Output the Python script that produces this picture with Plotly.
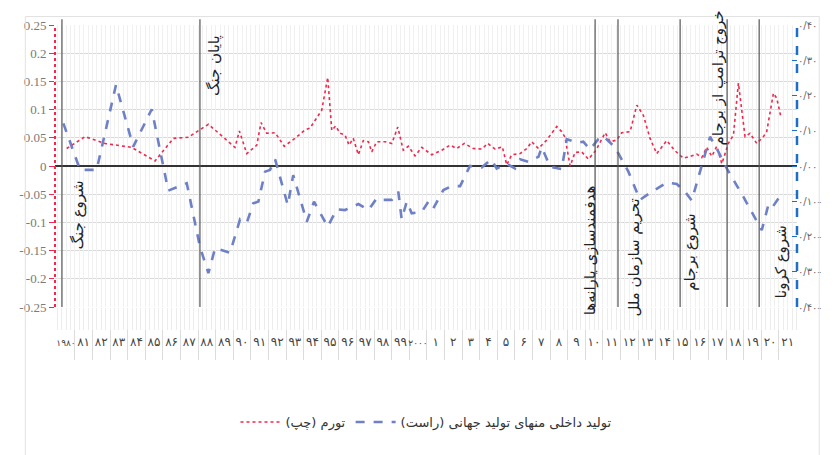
import plotly.graph_objects as go

# ---------------- data ----------------
infl_year = [1980.04, 1981.08, 1982.22, 1983.73, 1985.06, 1986.10, 1986.95, 1988.09, 1989.60, 1989.85,
             1990.27, 1990.84, 1991.08, 1991.40, 1991.88, 1992.40, 1993.01, 1993.58, 1993.86, 1994.53,
             1994.87, 1995.10, 1995.32, 1995.57, 1995.85, 1996.08, 1996.32, 1996.61, 1996.89, 1997.18,
             1997.37, 1997.65, 1998.13, 1998.51, 1998.85, 1999.16, 1999.45, 1999.83, 2000.21, 2000.78,
             2001.35, 2001.82, 2002.20, 2002.63, 2003.14, 2003.62, 2003.96, 2004.38, 2004.79, 2005.04,
             2005.32, 2005.80, 2006.18, 2006.46, 2006.84, 2007.31, 2007.88, 2008.16, 2008.35, 2008.64,
             2008.92, 2009.30, 2009.68, 2010.11, 2010.63, 2010.91, 2011.29, 2011.57, 2012.05, 2012.43,
             2012.80, 2013.18, 2013.56, 2014.13, 2014.60, 2015.07, 2015.45, 2015.84, 2016.12, 2016.40,
             2016.69, 2016.97, 2017.26, 2017.63, 2017.92, 2018.20, 2018.58, 2018.86, 2019.24, 2019.62,
             2019.81, 2020.19, 2020.38, 2020.63]
infl_val = [0.031, 0.052, 0.040, 0.033, 0.009, 0.049, 0.051, 0.074, 0.033, 0.062,
            0.022, 0.037, 0.077, 0.058, 0.059, 0.035, 0.049, 0.064, 0.067, 0.099,
            0.157, 0.063, 0.071, 0.058, 0.055, 0.037, 0.049, 0.020, 0.045, 0.043,
            0.025, 0.043, 0.043, 0.040, 0.069, 0.028, 0.035, 0.018, 0.033, 0.020,
            0.028, 0.037, 0.031, 0.040, 0.031, 0.030, 0.040, 0.030, 0.034, 0.002,
            0.020, 0.022, 0.031, 0.043, 0.031, 0.046, 0.070, 0.061, 0.051, 0.000,
            0.024, 0.025, 0.012, 0.028, 0.059, 0.043, 0.046, 0.059, 0.061, 0.108,
            0.090, 0.049, 0.022, 0.045, 0.027, 0.014, 0.017, 0.021, 0.015, 0.033,
            0.017, 0.035, 0.004, 0.040, 0.055, 0.147, 0.052, 0.058, 0.040, 0.052,
            0.061, 0.129, 0.120, 0.085]

gap_year = [1979.85, 1980.80, 1981.74, 1982.84, 1983.82, 1984.87, 1985.81, 1986.86, 1987.61, 1988.09,
            1988.47, 1989.32, 1989.89, 1990.27, 1990.64, 1990.93, 1991.31, 1991.59, 1991.88, 1992.60,
            1992.91, 1993.68, 1994.09, 1994.87, 1995.38, 1995.85, 1996.61, 1997.18, 1997.65, 1997.94,
            1998.51, 1998.88, 1999.07, 1999.36, 1999.64, 2000.21, 2000.59, 2000.87, 2001.44, 2001.91,
            2002.39, 2002.95, 2003.62, 2004.15, 2004.47, 2005.04, 2005.51, 2005.80, 2006.27, 2006.84,
            2007.03, 2007.50, 2008.16, 2008.45, 2009.11, 2009.39, 2009.77, 2010.24, 2010.53, 2011.19,
            2011.95, 2012.61, 2013.28, 2014.13, 2014.70, 2015.17, 2015.55, 2016.59, 2017.06, 2017.54,
            2018.48, 2019.53, 2019.90, 2020.09, 2020.57]
gap_val = [0.121, -0.011, -0.011, 0.230, 0.055, 0.161, -0.070, -0.049, -0.229, -0.304,
           -0.233, -0.246, -0.151, -0.161, -0.106, -0.101, -0.016, -0.011, 0.019, -0.111,
           -0.026, -0.158, -0.101, -0.172, -0.123, -0.125, -0.108, -0.125, -0.092, -0.096,
           -0.096, -0.073, -0.151, -0.101, -0.134, -0.130, -0.101, -0.120, -0.068, -0.057,
           -0.057, 0.000, -0.004, 0.019, -0.007, 0.006, -0.007, 0.019, 0.012, 0.026,
           0.053, -0.002, -0.009, 0.076, 0.066, 0.069, 0.047, 0.076, 0.085, 0.053,
           -0.016, -0.096, -0.073, -0.047, -0.051, -0.073, -0.098, 0.083, 0.041, -0.007,
           -0.087, -0.182, -0.111, -0.120, -0.085]

x_years = list(range(1980, 2022))
x_labels = ["۱۹۸۰", "۸۱", "۸۲", "۸۳", "۸۴", "۸۵", "۸۶", "۸۷", "۸۸", "۸۹",
            "۹۰", "۹۱", "۹۲", "۹۳", "۹۴", "۹۵", "۹۶", "۹۷", "۹۸", "۹۹",
            "۲۰۰۰", "۱", "۲", "۳", "۴", "۵", "۶", "۷", "۸", "۹",
            "۱۰", "۱۱", "۱۲", "۱۳", "۱۴", "۱۵", "۱۶", "۱۷", "۱۸", "۱۹", "۲۰", "۲۱"]

left_ticks = [0.25, 0.2, 0.15, 0.1, 0.05, 0, -0.05, -0.1, -0.15, -0.2, -0.25]
left_labels = ["0.25", "0.2", "0.15", "0.1", "0.05", "0", "-0.05", "-0.1", "-0.15", "-0.2", "-0.25"]
right_ticks = [0.4, 0.3, 0.2, 0.1, 0.0, -0.1, -0.2, -0.3, -0.4]
right_labels = ["۰/۴۰", "۰/۳۰", "۰/۲۰", "۰/۱۰", "۰/۰۰", "۰/۱۰-", "۰/۲۰-", "۰/۳۰-", "۰/۴۰-"]

event_names = ["شروع جنگ", "پایان جنگ", "هدفمندسازی یارانه‌ها", "تحریم سازمان ملل",
               "شروع برجام", "خروج ترامپ از برجام", "شروع کرونا"]
event_year = [1979.77, 1987.61, 2010.06, 2011.36, 2014.89, 2017.56, 2019.38]
event_text_x = [1980.70, 1988.40, 2009.75, 2012.25, 2015.45, 2017.10, 2020.60]
event_text_y = [-0.087, 0.179, -0.150, -0.163, -0.152, 0.155, -0.170]

series_names = ["تورم (چپ)", "تولید داخلی منهای تولید جهانی (راست)"]

# ---------------- figure ----------------
XR = [1979.375, 2021.53]
fig = go.Figure()

fig.add_trace(go.Scatter(x=infl_year, y=infl_val, name=series_names[0], mode="lines",
                         line=dict(color="#F0284E", width=1.6, dash="dot"),
                         xaxis="x", yaxis="y"))
fig.add_trace(go.Scatter(x=gap_year, y=gap_val, name=series_names[1], mode="lines",
                         line=dict(color="#6E80C6", width=2.6, dash="dash"),
                         xaxis="x2", yaxis="y2"))

shapes = []
for yr in event_year:
    shapes.append(dict(type="line", xref="x", yref="paper", x0=yr, x1=yr, y0=0, y1=1.02,
                       line=dict(color="#555555", width=1.2), layer="above"))
# dashed/dotted axis lines
shapes.append(dict(type="line", xref="paper", yref="paper", x0=0, x1=0, y0=0, y1=1,
                   line=dict(color="#F0284E", width=2, dash="dot")))
shapes.append(dict(type="line", xref="paper", yref="paper", x0=1, x1=1, y0=0, y1=1,
                   line=dict(color="#1E6EC8", width=2.5, dash="dash")))
# outer frame
shapes.append(dict(type="rect", xref="paper", yref="paper", x0=-0.04, x1=1.03, y0=-0.98, y1=1.03,
                   line=dict(color="#e2e2e2", width=1)))

annotations = []
for name, tx, ty in zip(event_names, event_text_x, event_text_y):
    annotations.append(dict(x=tx, y=ty, xref="x", yref="y", text=name, showarrow=False,
                            textangle=-90, font=dict(family="DejaVu Sans", size=15, color="#222222")))

# long (4-digit) labels drawn a little smaller so neighbours do not collide
x_ticktext = [f"<span style='font-size:9px'>{t}</span>" if len(t) > 2 else t for t in x_labels]

fig.update_layout(
    width=828, height=447,
    margin=dict(l=47, r=39, t=17, b=148, autoexpand=False),
    paper_bgcolor="white", plot_bgcolor="white",
    showlegend=True,
    legend=dict(orientation="h", x=0.5, xanchor="center", y=-0.355, yanchor="top",
                font=dict(family="DejaVu Sans", size=13, color="#333333"),
                itemwidth=40, traceorder="normal"),
    shapes=shapes,
    annotations=annotations,
    xaxis=dict(range=XR, tickvals=x_years, ticktext=x_ticktext, tickangle=0,
               showgrid=False, zeroline=False, ticks="", showline=False, automargin=False,
               tickfont=dict(family="DejaVu Sans", size=12, color="#444444"),
               ticklabelstandoff=26,
               minor=dict(tickvals=[y + 0.5 for y in x_years[:-1]], ticks="outside", ticklen=52,
                          tickcolor="#dcdcdc", showgrid=True, gridcolor="#dedede", gridwidth=1)),
    xaxis2=dict(range=XR, overlaying="x", anchor="y2", side="bottom", showticklabels=False,
                tickmode="linear", tick0=1979.5, dtick=0.25, ticks="outside", ticklen=22,
                tickcolor="#ececec", showgrid=True, gridcolor="#f0f0f0", zeroline=False,
                automargin=False),
    yaxis=dict(range=[-0.25, 0.25], tickvals=left_ticks, ticktext=left_labels, automargin=False,
               showgrid=True, gridcolor="#d9d9d9", zeroline=True, zerolinecolor="#333333",
               zerolinewidth=1.5, ticks="outside", ticklen=5, tickcolor="#F0284E",
               tickfont=dict(family="Liberation Serif", size=13, color="#7a7a7a"), showline=False),
    yaxis2=dict(range=[-0.4, 0.4], tickvals=right_ticks, ticktext=right_labels, automargin=False,
                overlaying="y", side="right", anchor="x2", showgrid=False, zeroline=False,
                ticks="inside", ticklen=5, tickcolor="#1E6EC8",
                tickfont=dict(family="DejaVu Sans", size=10, color="#666666")),
)

fig.write_html("out.html")
